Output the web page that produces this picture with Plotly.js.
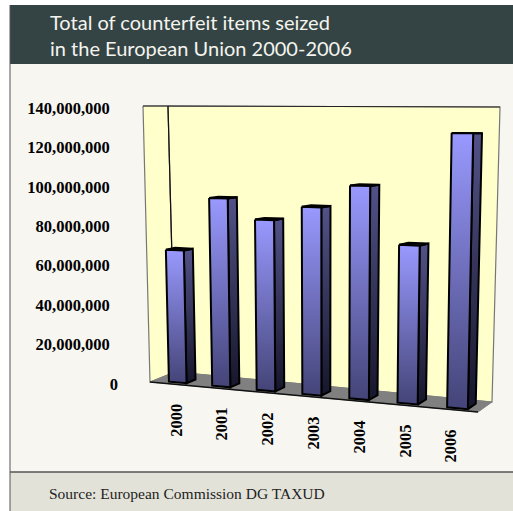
<!DOCTYPE html>
<html>
<head>
<meta charset="utf-8">
<script src="https://cdn.plot.ly/plotly-3.0.1.min.js"></script>
<style>html,body{margin:0;padding:0;background:#fff}#chart{width:513px;height:511px}</style>
</head>
<body>
<div id="chart"></div>
<script>
// Counterfeit items seized per year
const years = ['2000', '2001', '2002', '2003', '2004', '2005', '2006'];
const itemsSeized = [67000000, 94000000, 84000000, 91000000, 102000000, 74500000, 127500000];
const tickValues = [0, 20000000, 40000000, 60000000, 80000000, 100000000, 120000000, 140000000];
const tickLabels = ['0', '20,000,000', '40,000,000', '60,000,000', '80,000,000', '100,000,000', '120,000,000', '140,000,000'];

const W = 513, H = 511;
const MAX = 140000000;

// Value axis covers the whole page so the tilted box can run below zero.
const zeroRow = 384, topRow = 108;
const perRow = MAX / (zeroRow - topRow);
const rowToValue = r => (zeroRow - r) * perRow;

// Corners of the tilted box: front and back planes, page columns and rows.
const front = { bl: [150, 382], br: [478, 412], tl: [143, 106], tr: [484, 106] };
const back = { bl: [175, 372], br: [492, 402], tl: [168, 106], tr: [500, 107] };

function onPlane(p, s, t) {
  const mix = k => (p.bl[k] * (1 - s) + p.br[k] * s) * (1 - t) + (p.tl[k] * (1 - s) + p.tr[k] * s) * t;
  return [mix(0), mix(1)];
}
// Foreshortening along the category direction
function spread(u) {
  const x = u / years.length;
  return x / (1 + 0.1 * (1 - x));
}
// Category position u, value v, depth d -> axis coordinates
function project(u, v, d) {
  const s = spread(u), t = v / MAX;
  const a = onPlane(front, s, t), b = onPlane(back, s, t);
  return [a[0] + (b[0] - a[0]) * d, rowToValue(a[1] + (b[1] - a[1]) * d)];
}

function poly(points, style) {
  const closed = points.concat([points[0]]);
  return Object.assign({
    type: 'scatter', mode: 'lines', fill: 'toself', hoverinfo: 'skip', showlegend: false,
    x: closed.map(p => p[0]), y: closed.map(p => p[1])
  }, style);
}
function line(points, color, width) {
  return {
    type: 'scatter', mode: 'lines', hoverinfo: 'skip', showlegend: false,
    x: points.map(p => p[0]), y: points.map(p => p[1]), line: { color: color, width: width }
  };
}

const traces = [];
const WALL = '#ffffcc', FLOOR = '#808080';

// Walls and floor of the box
const n = years.length;
const fbl = project(0, 0, 0), fbr = project(n, 0, 0), ftl = project(0, MAX, 0);
const bbl = project(0, 0, 1), bbr = project(n, 0, 1), btl = project(0, MAX, 1), btr = project(n, MAX, 1);
traces.push(poly([ftl, btl, bbl, fbl], { fillcolor: WALL, line: { color: '#777', width: 1.2 } }));
traces.push(poly([btl, btr, bbr, bbl], { fillcolor: WALL, line: { color: '#777', width: 1.2 } }));
traces.push(poly([fbl, bbl, bbr, fbr], { fillcolor: FLOOR, line: { color: FLOOR, width: 1 } }));
traces.push(line([fbl, fbr], '#111', 1.4));
traces.push(line([btl, bbl], '#111', 1.2));
traces.push(line([ftl, btl, btr], '#222', 1.2));

// Bars: side, top and front face, each with its own vertical shading
const halfBar = 0.205, inset = 0.17;
itemsSeized.forEach((v, i) => {
  const u = i + 0.55;
  const l = u - halfBar, r = u + halfBar;
  const depth = inset + 0.36 + 0.2 * spread(u);
  traces.push(poly(
    [project(r, v, inset), project(r, v, depth), project(r, 0, depth), project(r, 0, inset)],
    { fillgradient: { type: 'vertical', colorscale: [[0, '#16162b'], [1, '#525288']] }, line: { color: '#000', width: 2 } }
  ));
  traces.push(poly(
    [project(l, v, inset), project(l, v, depth), project(r, v, depth), project(r, v, inset)],
    { fillcolor: '#1c1c44', line: { color: '#000', width: 2 } }
  ));
  traces.push(poly(
    [project(l, v, inset), project(r, v, inset), project(r, 0, inset), project(l, 0, inset)],
    { fillgradient: { type: 'vertical', colorscale: [[0, '#444478'], [1, '#9999ff']] }, line: { color: '#000', width: 2 } }
  ));
});

// Year labels step evenly along the sloping floor edge
const yearNotes = years.map((y, i) => {
  const p = onPlane(front, 0.08 + i * 0.1396, 0);
  return {
    x: p[0], y: rowToValue(p[1] + 36), xref: 'x', yref: 'y', text: y, showarrow: false,
    textangle: -90, font: { family: 'Liberation Serif', size: 16.5, color: '#000', weight: 'bold' }
  };
});

const layout = {
  width: W, height: H,
  margin: { l: 0, r: 0, t: 0, b: 0 },
  paper_bgcolor: '#ffffff', plot_bgcolor: 'rgba(0,0,0,0)',
  showlegend: false,
  title: {
    text: 'Total of counterfeit items seized<br>in the European Union 2000-2006',
    x: 50 / W, xanchor: 'left', xref: 'paper', y: 1 - 30 / H, yanchor: 'top',
    font: { family: 'Lato', size: 20, color: '#f4f4ef' }
  },
  xaxis: { range: [0, W], domain: [0, 1], visible: false, fixedrange: true },
  yaxis: {
    range: [rowToValue(H), rowToValue(0)], domain: [0, 1], anchor: 'free', position: 118 / W,
    tickmode: 'array', tickvals: tickValues,
    ticktext: tickLabels.map(t => t === '0' ? t : t + '\u00a0\u00a0'),
    ticks: '', showgrid: false, zeroline: false, showline: false, fixedrange: true,
    tickfont: { family: 'Liberation Serif', size: 16.5, color: '#000', weight: 'bold' }
  },
  shapes: [
    { type: 'rect', xref: 'paper', yref: 'paper', x0: 10 / W, x1: 1, y0: 0, y1: 1 - 5 / H, layer: 'below', fillcolor: '#f7f6f0', line: { width: 0 } },
    { type: 'rect', xref: 'paper', yref: 'paper', x0: 10 / W, x1: 1, y0: 1 - 64 / H, y1: 1 - 5 / H, layer: 'below', fillcolor: '#344444', line: { width: 0 } },
    { type: 'rect', xref: 'paper', yref: 'paper', x0: 10 / W, x1: 1, y0: 0, y1: 1 - 472 / H, layer: 'below', fillcolor: '#e2e2d9', line: { width: 0 } },
    { type: 'line', xref: 'paper', yref: 'paper', x0: 10 / W, x1: 1, y0: 1 - 472 / H, y1: 1 - 472 / H, layer: 'below', line: { color: '#555', width: 1.5 } },
    { type: 'line', xref: 'paper', yref: 'paper', x0: 10 / W, x1: 10 / W, y0: 0, y1: 1 - 5 / H, layer: 'below', line: { color: '#555', width: 1 } }
  ],
  annotations: yearNotes.concat([{
    xref: 'paper', yref: 'paper', x: 47 / W, y: 1 - 493 / H, xanchor: 'left', yanchor: 'middle',
    text: 'Source: European Commission DG TAXUD', showarrow: false,
    font: { family: 'Liberation Serif', size: 15.5, color: '#222' }
  }])
};

Plotly.newPlot('chart', traces, layout, { displayModeBar: false, staticPlot: true });
</script>
</body>
</html>
